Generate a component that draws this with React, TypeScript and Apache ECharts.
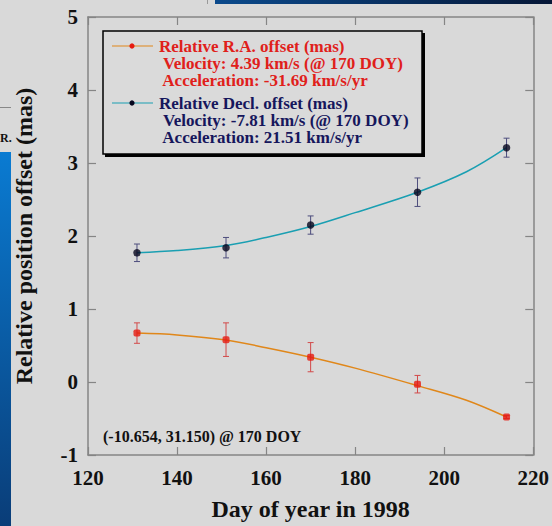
import React, { useEffect, useRef } from "react";
import * as echarts from "echarts";

// Observation days (DOY 1998)
const days = [131, 151, 170, 194, 214];
// Relative R.A. offset (mas) and 1-sigma errors
const raOffset = [0.67, 0.58, 0.34, -0.03, -0.48];
const raErr = [0.14, 0.23, 0.2, 0.12, 0.02];
// Relative Decl. offset (mas) and 1-sigma errors
const declOffset = [1.77, 1.84, 2.15, 2.6, 3.21];
const declErr = [0.12, 0.14, 0.125, 0.195, 0.13];
// Fitted curves
const fitDays = [131, 140, 151, 160, 170, 180, 194, 205, 214];
const fitRa = [0.67, 0.645, 0.575, 0.47, 0.34, 0.19, -0.05, -0.25, -0.48];
const fitDecl = [1.77, 1.8, 1.87, 1.98, 2.13, 2.32, 2.6, 2.88, 3.21];

const legendRa = [
  "Relative R.A. offset (mas)",
  " Velocity: 4.39 km/s (@ 170 DOY)",
  " Acceleration: -31.69 km/s/yr",
];
const legendDecl = [
  "Relative Decl. offset (mas)",
  " Velocity: -7.81 km/s (@ 170 DOY)",
  " Acceleration: 21.51 km/s/yr",
];
const note = "(-10.654, 31.150) @ 170 DOY";

const SERIF = "'Liberation Serif', 'Times New Roman', serif";
const AXIS = "#858585";

function errorBars(color: string) {
  return (params: any, api: any) => {
    const x = api.value(0);
    const top = api.coord([x, api.value(2)]);
    const bot = api.coord([x, api.value(1)]);
    const w = 3;
    const style = { stroke: color, lineWidth: 1 };
    return {
      type: "group",
      children: [
        { type: "line", shape: { x1: top[0], y1: top[1], x2: bot[0], y2: bot[1] }, style },
        { type: "line", shape: { x1: top[0] - w, y1: top[1], x2: top[0] + w, y2: top[1] }, style },
        { type: "line", shape: { x1: bot[0] - w, y1: bot[1], x2: bot[0] + w, y2: bot[1] }, style },
      ],
    };
  };
}

export default function App() {
  const ref = useRef<HTMLDivElement>(null);
  useEffect(() => {
    if (!ref.current) return;
    const chart = echarts.init(ref.current, undefined, { renderer: "svg" });

    const axisCommon = {
      type: "value" as const,
      axisLine: { show: true, onZero: false, lineStyle: { color: AXIS, width: 1.5 } },
      axisTick: { show: true, inside: true, length: 8, lineStyle: { color: AXIS, width: 1.2 } },
      splitLine: { show: false },
    };
    const labelStyle = {
      fontFamily: SERIF,
      fontWeight: "bold" as const,
      fontSize: 21,
      color: "#111",
    };

    const legendBlock = (lines: string[], color: string, y0: number) => ({
      type: "text",
      left: 159,
      top: y0 - 8.5,
      style: {
        text: lines.join("\n"),
        fill: color,
        font: `bold 17px ${SERIF}`,
        lineHeight: 17.3,
      },
      z: 100,
    });

    chart.setOption({
      animation: false,
      backgroundColor: "#d9d9d9",
      grid: { left: 88, right: 18, top: 17, bottom: 64, containLabel: false },
      xAxis: [
        {
          ...axisCommon,
          min: 120,
          max: 220,
          interval: 20,
          position: "bottom",
          axisLabel: { ...labelStyle, margin: 12 },
          name: "Day of year in 1998",
          nameLocation: "middle",
          nameGap: 42,
          nameTextStyle: { fontFamily: SERIF, fontWeight: "bold", fontSize: 24, color: "#111" },
        },
        {
          ...axisCommon,
          min: 120,
          max: 220,
          interval: 20,
          position: "top",
          axisLabel: { show: false },
        },
      ],
      yAxis: [
        {
          ...axisCommon,
          min: -1,
          max: 5,
          interval: 1,
          position: "left",
          axisLabel: { ...labelStyle, margin: 10 },
          name: "Relative position offset (mas)",
          nameLocation: "middle",
          nameGap: 52,
          nameRotate: 90,
          nameTextStyle: { fontFamily: SERIF, fontWeight: "bold", fontSize: 24, color: "#111" },
        },
        {
          ...axisCommon,
          min: -1,
          max: 5,
          interval: 1,
          position: "right",
          axisLabel: { show: false },
        },
      ],
      series: [
        {
          name: "RA fit",
          type: "line",
          data: fitDays.map((d, i) => [d, fitRa[i]]),
          smooth: 0.35,
          showSymbol: false,
          lineStyle: { color: "#e0871a", width: 1.5 },
          z: 2,
        },
        {
          name: "Decl fit",
          type: "line",
          data: fitDays.map((d, i) => [d, fitDecl[i]]),
          smooth: 0.35,
          showSymbol: false,
          lineStyle: { color: "#1a9fb2", width: 1.5 },
          z: 2,
        },
        {
          name: "RA err",
          type: "custom",
          renderItem: errorBars("#d24a4a"),
          data: days.map((d, i) => [d, raOffset[i] - raErr[i], raOffset[i] + raErr[i]]),
          z: 3,
        },
        {
          name: "Decl err",
          type: "custom",
          renderItem: errorBars("#4d4d7d"),
          data: days.map((d, i) => [d, declOffset[i] - declErr[i], declOffset[i] + declErr[i]]),
          z: 3,
        },
        {
          name: "RA",
          type: "scatter",
          data: days.map((d, i) => [d, raOffset[i]]),
          symbol: "roundRect",
          symbolSize: 7,
          itemStyle: { color: "#e61a10" },
          z: 4,
        },
        {
          name: "Decl",
          type: "scatter",
          data: days.map((d, i) => [d, declOffset[i]]),
          symbol: "circle",
          symbolSize: 7.5,
          itemStyle: { color: "#06061e" },
          z: 4,
        },
      ],
      graphic: [
        // slide decorations
        {
          type: "rect",
          shape: { x: 215, y: 0, width: 337, height: 4 },
          style: {
            fill: new echarts.graphic.LinearGradient(0, 0, 1, 0, [
              { offset: 0, color: "#0b4a8c" },
              { offset: 1, color: "#061737" },
            ]),
          },
          z: 50,
        },
        {
          type: "rect",
          shape: { x: 207, y: 0, width: 1, height: 4 },
          style: { fill: "#999" },
          z: 50,
        },
        {
          type: "rect",
          shape: { x: 0, y: 152, width: 11, height: 374 },
          style: {
            fill: new echarts.graphic.LinearGradient(0, 0, 0, 1, [
              { offset: 0, color: "#0a7bd2" },
              { offset: 1, color: "#0a3d78" },
            ]),
          },
          z: 50,
        },
        {
          type: "rect",
          shape: { x: 0, y: 107, width: 11, height: 1 },
          style: { fill: "#888" },
          z: 50,
        },
        {
          type: "text",
          left: 0,
          top: 132,
          style: { text: "R.", fill: "#111", font: `bold 12px ${SERIF}` },
          z: 50,
        },
        // legend box with shadow
        {
          type: "rect",
          shape: { x: 105, y: 33, width: 320, height: 124 },
          style: { fill: "#000" },
          z: 90,
        },
        {
          type: "rect",
          shape: { x: 103, y: 31, width: 319, height: 123 },
          style: { fill: "#dadada", stroke: "#000", lineWidth: 1.5 },
          z: 91,
        },
        {
          type: "line",
          shape: { x1: 112, y1: 46, x2: 153, y2: 46 },
          style: { stroke: "#e0871a", lineWidth: 1 },
          z: 95,
        },
        {
          type: "circle",
          shape: { cx: 132, cy: 46, r: 2.6 },
          style: { fill: "#e61a10" },
          z: 96,
        },
        {
          type: "line",
          shape: { x1: 112, y1: 103, x2: 153, y2: 103 },
          style: { stroke: "#1a9fb2", lineWidth: 1 },
          z: 95,
        },
        {
          type: "circle",
          shape: { cx: 132, cy: 103, r: 2.6 },
          style: { fill: "#06061e" },
          z: 96,
        },
        legendBlock(legendRa, "#e0201a", 46),
        legendBlock(legendDecl, "#16165c", 103),
        {
          type: "text",
          left: 103,
          top: 428,
          style: { text: note, fill: "#111", font: `bold 16px ${SERIF}` },
          z: 100,
        },
      ],
    });
    return () => chart.dispose();
  }, []);

  return (
    <div
      ref={ref}
      style={{ position: "absolute", left: 0, top: 0, width: 552, height: 526, background: "#d9d9d9" }}
    />
  );
}
